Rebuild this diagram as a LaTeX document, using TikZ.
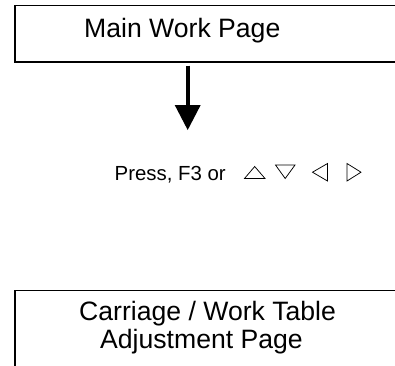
\documentclass[tikz,border=0pt]{standalone}
\usepackage{fontspec}
\setmainfont{Liberation Sans}
\usetikzlibrary{arrows.meta}
\begin{document}
\begin{tikzpicture}[x=1pt,y=-1pt,
  pagebox/.style={draw=black, line width=1.6pt, anchor=north west, inner sep=0pt, outer sep=0pt, minimum width=420pt},
  bigtext/.style={anchor=base west, inner sep=0pt, font=\fontsize{26.6}{28}\selectfont},
  smalltext/.style={anchor=base west, inner sep=0pt, font=\fontsize{20.4}{24}\selectfont},
  keytri/.style={draw=black, line width=0.75pt, line join=miter},
  flowarrow/.style={line width=4pt, -{Triangle[width=26pt,length=25pt,line width=0pt]}, shorten <=3.5pt}]
\useasboundingbox (0,0) rectangle (395,365);
\begin{scope}
\clip (0,0) rectangle (395,365);
\node[pagebox, minimum height=56.5pt] (top) at (14.7,5.5) {};
\node[pagebox, minimum height=100pt] (bot) at (14.7,290.5) {};
\end{scope}
\node[bigtext] (toptext) at (84,37) {Main Work Page};
\node[bigtext, align=left] (bottext) at (79,320) {Carriage / Work Table};
\node[bigtext] (bottext2) at (100,348) {Adjustment Page};
\coordinate (tip) at (187.7,130);
\draw[flowarrow] (top.south -| tip) -- (tip);
\node[smalltext] (press) at (114.5,180) {Press, F3 or};
% key symbols
\draw[keytri] (244.5,178.5) -- (265,178.5) -- (254.7,166.5) -- cycle;
\draw[keytri] (275.5,165) -- (295,165) -- (285.2,178.5) -- cycle;
\draw[keytri] (327.5,163.5) -- (327.5,181) -- (312.5,172.2) -- cycle;
\draw[keytri] (347,163.5) -- (347,181) -- (361,172.2) -- cycle;
\end{tikzpicture}
\end{document}
